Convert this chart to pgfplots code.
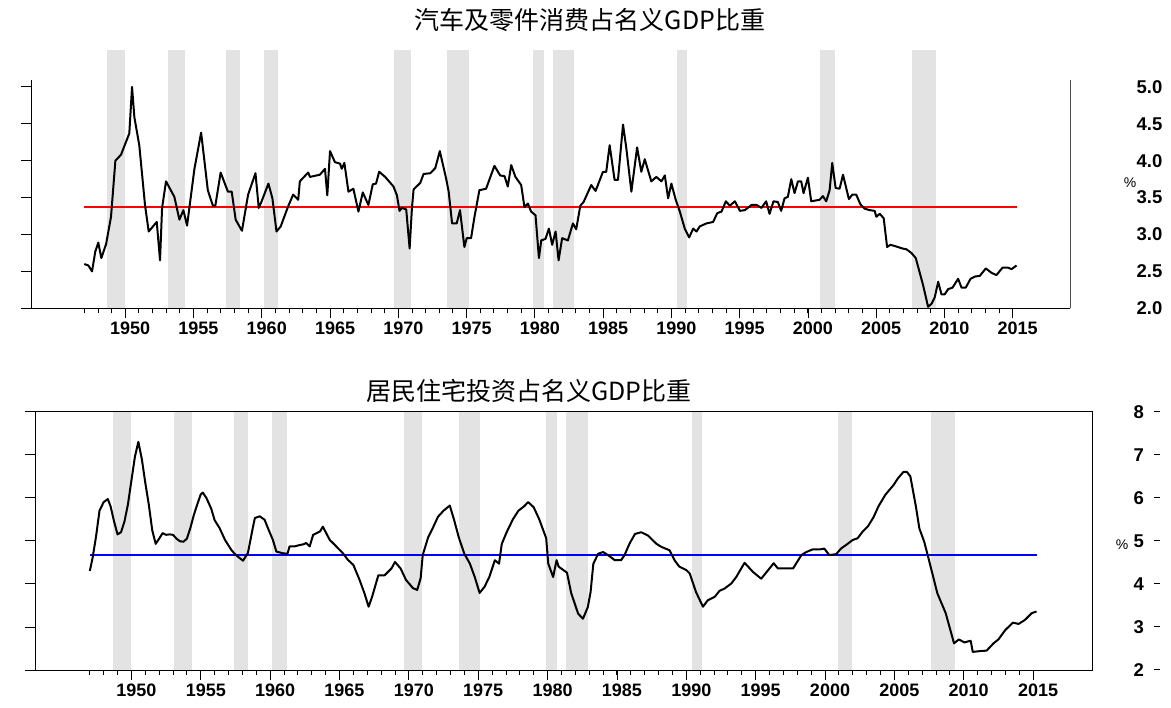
\documentclass[border=0pt]{standalone}
\usepackage{fontspec}
\setmainfont{Liberation Sans}
\newfontfamily\cjk{Noto Sans CJK SC}
\usepackage{pgfplots}
\pgfplotsset{compat=1.18}
\definecolor{shade}{RGB}{227,227,227}
\newcommand{\recessions}[1]{%
  \addplot[fill=shade, draw=none] coordinates {(1948.65,2) (1948.65,#1) (1949.95,#1) (1949.95,2)} --cycle;
  \addplot[fill=shade, draw=none] coordinates {(1953.1,2) (1953.1,#1) (1954.4,#1) (1954.4,2)} --cycle;
  \addplot[fill=shade, draw=none] coordinates {(1957.4,2) (1957.4,#1) (1958.4,#1) (1958.4,2)} --cycle;
  \addplot[fill=shade, draw=none] coordinates {(1960.15,2) (1960.15,#1) (1961.2,#1) (1961.2,2)} --cycle;
  \addplot[fill=shade, draw=none] coordinates {(1969.65,2) (1969.65,#1) (1970.95,#1) (1970.95,2)} --cycle;
  \addplot[fill=shade, draw=none] coordinates {(1973.6,2) (1973.6,#1) (1975.15,#1) (1975.15,2)} --cycle;
  \addplot[fill=shade, draw=none] coordinates {(1979.9,2) (1979.9,#1) (1980.7,#1) (1980.7,2)} --cycle;
  \addplot[fill=shade, draw=none] coordinates {(1981.35,2) (1981.35,#1) (1982.9,#1) (1982.9,2)} --cycle;
  \addplot[fill=shade, draw=none] coordinates {(1990.4,2) (1990.4,#1) (1991.15,#1) (1991.15,2)} --cycle;
  \addplot[fill=shade, draw=none] coordinates {(2000.9,2) (2000.9,#1) (2001.95,#1) (2001.95,2)} --cycle;
  \addplot[fill=shade, draw=none] coordinates {(2007.65,2) (2007.65,#1) (2009.4,#1) (2009.4,2)} --cycle;
}
\pgfplotsset{
  common/.style={
    scale only axis, anchor=south west,
    /pgf/number format/assume math mode=true,
    /pgf/number format/1000 sep={},
    tick align=outside, major tick length=10pt, minor tick length=5pt,
    tick style={black, line width=0.8pt},
    xtick={1950,1955,...,2015}, minor xtick={1947,...,2015},
    xtick pos=bottom, ytick pos=left,
    xticklabel style={font=\fontsize{18}{18}\selectfont\bfseries, xshift=5pt},
    yticklabels={},
  },
  labels/.style={
    scale only axis, anchor=south west,
    /pgf/number format/assume math mode=true,
    hide x axis, axis y line*=right, y axis line style={draw=none},
    major tick length=0pt,
    yticklabel style={font=\fontsize{18.5}{18.5}\selectfont\bfseries, anchor=west},
  }
}
\begin{document}
\begin{tikzpicture}
\useasboundingbox (0,0) rectangle (1171pt,708pt);
% ---------------- top panel ----------------
\begin{axis}[common, at={(31pt,399.7pt)}, width=1039pt, height=258.3pt,
  xmin=1943.1, xmax=2019.2, ymin=2, ymax=5.5, clip=false,
  axis line style={draw=none}, ytick={2,2.5,3,3.5,4,4.5,5}]
\recessions{5.5}
\draw[black, line width=0.9pt] (axis cs:1943.1,2) -- (axis cs:1943.1,5.093);
\draw[black!70, line width=0.9pt] (axis cs:2019.2,2) -- (axis cs:2019.2,5.093);
\draw[black, line width=0.9pt] (axis cs:1943.1,2) -- (axis cs:2019.2,2);
\addplot[red, line width=2.2pt] coordinates {(1947.0,3.377) (2015.28,3.377)};
\addplot[black, line width=2pt, line join=round] coordinates {
(1947.0,2.60) (1947.3,2.58) (1947.57,2.50) (1947.81,2.77) (1948.03,2.89) (1948.25,2.68) (1948.6,2.87) (1948.96,3.24)
(1949.28,4.00) (1949.69,4.08) (1950.3,4.37) (1950.5,5.00) (1950.67,4.59) (1951.03,4.21) (1951.45,3.40) (1951.72,3.04)
(1952.31,3.17) (1952.55,2.65) (1952.7,3.36) (1952.99,3.72) (1953.6,3.51) (1953.97,3.20) (1954.26,3.33) (1954.53,3.12)
(1955.07,3.89) (1955.56,4.38) (1956.05,3.60) (1956.42,3.39) (1956.6,3.39) (1956.99,3.84) (1957.52,3.58) (1957.8,3.58)
(1958.09,3.20) (1958.55,3.05) (1959.0,3.54) (1959.54,3.83) (1959.78,3.36) (1959.97,3.44) (1960.49,3.69) (1960.78,3.49)
(1961.08,3.04) (1961.39,3.11) (1961.93,3.38) (1962.3,3.54) (1962.67,3.47) (1962.79,3.72) (1963.4,3.84) (1963.53,3.78)
(1964.26,3.81) (1964.63,3.89) (1964.8,3.53) (1965.0,4.13) (1965.36,3.98) (1965.73,3.96) (1965.86,3.89) (1966.05,3.97)
(1966.35,3.58) (1966.71,3.62) (1967.08,3.31) (1967.4,3.57) (1967.81,3.40) (1968.13,3.68) (1968.37,3.69) (1968.6,3.85)
(1969.04,3.78) (1969.65,3.65) (1969.9,3.53) (1970.09,3.32) (1970.26,3.36) (1970.58,3.34) (1970.83,2.81) (1971.0,3.36)
(1971.12,3.61) (1971.61,3.70) (1971.85,3.82) (1972.34,3.83) (1972.71,3.90) (1973.04,4.13) (1973.5,3.76) (1973.69,3.58)
(1973.94,3.15) (1974.28,3.15) (1974.52,3.33) (1974.84,2.83) (1975.01,2.95) (1975.33,2.95) (1975.58,3.24) (1975.94,3.60)
(1976.43,3.62) (1977.04,3.93) (1977.46,3.80) (1977.78,3.79) (1978.02,3.65) (1978.27,3.94) (1978.58,3.78) (1979.0,3.67)
(1979.24,3.37) (1979.49,3.42) (1979.73,3.31) (1980.05,3.26) (1980.3,2.68) (1980.47,2.92) (1980.78,2.94) (1981.03,3.08)
(1981.27,2.86) (1981.52,3.04) (1981.74,2.65) (1982.0,2.95) (1982.42,2.92) (1982.79,3.15) (1983.03,3.07) (1983.33,3.39)
(1983.57,3.44) (1984.13,3.67) (1984.45,3.59) (1984.99,3.85) (1985.23,3.85) (1985.48,4.21) (1985.84,3.74) (1986.09,3.74)
(1986.46,4.49) (1986.7,4.17) (1987.07,3.58) (1987.49,4.18) (1987.8,3.85) (1988.05,4.02) (1988.53,3.72) (1988.9,3.78)
(1989.27,3.72) (1989.52,3.80) (1989.76,3.49) (1990.0,3.69) (1990.32,3.47) (1990.62,3.31) (1990.98,3.08) (1991.3,2.96)
(1991.6,3.08) (1991.84,3.04) (1992.08,3.11) (1992.57,3.15) (1993.06,3.17) (1993.36,3.29) (1993.67,3.31) (1993.99,3.45)
(1994.28,3.39) (1994.65,3.45) (1995.02,3.32) (1995.38,3.33) (1995.87,3.40) (1996.24,3.40) (1996.6,3.36) (1996.94,3.45)
(1997.19,3.28) (1997.48,3.45) (1997.8,3.44) (1998.04,3.32) (1998.29,3.49) (1998.53,3.51) (1998.78,3.75) (1999.02,3.56)
(1999.27,3.72) (1999.51,3.72) (1999.68,3.56) (2000.0,3.77) (2000.24,3.45) (2000.85,3.47) (2001.1,3.52) (2001.34,3.45)
(2001.59,3.60) (2001.78,3.97) (2002.03,3.63) (2002.32,3.62) (2002.57,3.81) (2003.0,3.48) (2003.25,3.54) (2003.54,3.54)
(2003.84,3.41) (2004.15,3.35) (2004.52,3.33) (2004.89,3.32) (2005.01,3.24) (2005.26,3.28) (2005.55,3.22) (2005.8,2.83)
(2006.04,2.86) (2006.24,2.85) (2006.6,2.83) (2006.92,2.81) (2007.21,2.80) (2007.58,2.75) (2007.9,2.68) (2008.44,2.31)
(2008.8,2.02) (2009.05,2.06) (2009.29,2.15) (2009.54,2.36) (2009.78,2.19) (2010.02,2.19) (2010.27,2.26) (2010.59,2.28)
(2011.0,2.40) (2011.25,2.28) (2011.56,2.28) (2011.91,2.40) (2012.23,2.43) (2012.59,2.44) (2013.03,2.54) (2013.45,2.48)
(2013.81,2.45) (2014.25,2.55) (2014.67,2.55) (2014.91,2.53) (2015.28,2.58)};
\end{axis}
\begin{axis}[labels, at={(31pt,399.7pt)}, width=1039pt, height=258.3pt,
  xmin=1943.1, xmax=2019.2, ymin=2, ymax=5.5,
  ytick={2,2.5,3,3.5,4,4.5,5},
  yticklabel style={xshift=63pt},
  yticklabel={\pgfmathprintnumber[fixed,fixed zerofill,precision=1]{\tick}}]
\addplot[draw=none] coordinates {(1950,3)};
\end{axis}
% ---------------- bottom panel ----------------
\begin{axis}[common, at={(35pt,38pt)}, width=1057pt, height=258.3pt,
  xmin=1943.05, xmax=2019.25, ymin=2, ymax=8,
  axis line style={black, line width=0.9pt}, ytick={2,3,4,5,6,7,8}]
\recessions{8}
\addplot[blue, line width=2.2pt] coordinates {(1947.0,4.67) (2015.28,4.67)};
\addplot[black, line width=2pt, line join=round] coordinates {
(1947.0,4.30) (1947.2,4.60) (1947.45,5.10) (1947.7,5.70) (1948.0,5.90) (1948.3,5.97) (1948.5,5.80) (1948.75,5.45)
(1949.0,5.15) (1949.25,5.20) (1949.5,5.45) (1949.75,5.85) (1950.0,6.40) (1950.25,6.95) (1950.5,7.30) (1950.75,6.90)
(1951.0,6.35) (1951.25,5.85) (1951.5,5.25) (1951.75,4.93) (1952.0,5.05) (1952.25,5.18) (1952.5,5.14) (1952.75,5.15)
(1953.0,5.14) (1953.25,5.05) (1953.5,4.99) (1953.75,4.98) (1954.0,5.05) (1954.25,5.30) (1954.5,5.60) (1954.75,5.85)
(1955.0,6.08) (1955.15,6.12) (1955.4,6.00) (1955.75,5.75) (1956.0,5.48) (1956.35,5.30) (1956.75,5.02) (1957.2,4.79)
(1957.5,4.68) (1957.8,4.60) (1958.05,4.54) (1958.4,4.72) (1958.75,5.30) (1958.9,5.53) (1959.25,5.57) (1959.6,5.49)
(1959.9,5.25) (1960.2,5.02) (1960.45,4.75) (1960.95,4.71) (1961.25,4.70) (1961.4,4.87) (1961.75,4.87) (1962.1,4.90)
(1962.4,4.92) (1962.6,4.95) (1962.85,4.87) (1963.1,5.14) (1963.35,5.18) (1963.6,5.22) (1963.8,5.33) (1964.3,5.02)
(1964.65,4.91) (1965.25,4.71) (1965.6,4.56) (1966.0,4.44) (1966.45,4.09) (1966.8,3.78) (1967.1,3.47) (1967.35,3.70)
(1967.8,4.20) (1968.25,4.20) (1968.75,4.36) (1969.0,4.51) (1969.4,4.36) (1969.8,4.09) (1970.3,3.90) (1970.6,3.86)
(1970.85,4.13) (1971.0,4.67) (1971.4,5.09) (1971.7,5.28) (1972.1,5.56) (1972.5,5.70) (1972.95,5.82) (1973.25,5.50)
(1973.6,5.08) (1974.0,4.70) (1974.4,4.47) (1974.75,4.16) (1975.1,3.79) (1975.45,3.93) (1975.8,4.16) (1976.2,4.55)
(1976.5,4.47) (1976.7,4.93) (1977.05,5.20) (1977.5,5.50) (1977.9,5.70) (1978.3,5.80) (1978.6,5.90) (1979.0,5.78)
(1979.4,5.50) (1979.9,5.06) (1980.05,4.47) (1980.4,4.16) (1980.65,4.55) (1980.8,4.40) (1981.4,4.26) (1981.7,3.79)
(1982.2,3.31) (1982.55,3.19) (1982.9,3.46) (1983.1,3.81) (1983.3,4.47) (1983.65,4.70) (1984.0,4.74) (1984.35,4.67)
(1984.85,4.55) (1985.3,4.55) (1985.55,4.67) (1985.9,4.93) (1986.3,5.16) (1986.75,5.20) (1987.25,5.12) (1987.85,4.93)
(1988.2,4.86) (1988.8,4.78) (1989.15,4.55) (1989.5,4.40) (1990.0,4.32) (1990.25,4.24) (1990.7,3.81) (1991.2,3.47)
(1991.55,3.62) (1992.05,3.70) (1992.4,3.84) (1992.75,3.89) (1993.25,4.01) (1993.6,4.16) (1994.2,4.49) (1994.8,4.28)
(1995.4,4.12) (1995.9,4.32) (1996.3,4.48) (1996.6,4.36) (1997.1,4.36) (1997.7,4.36) (1998.3,4.67) (1998.65,4.74)
(1999.1,4.80) (1999.6,4.80) (1999.95,4.82) (2000.3,4.67) (2000.8,4.69) (2001.15,4.82) (2001.5,4.90) (2002.0,5.02)
(2002.35,5.06) (2002.7,5.21) (2003.1,5.34) (2003.5,5.55) (2003.85,5.80) (2004.35,6.07) (2004.95,6.30) (2005.25,6.45)
(2005.65,6.60) (2005.9,6.60) (2006.15,6.50) (2006.55,5.80) (2006.8,5.29) (2007.15,4.98) (2007.4,4.67) (2008.1,3.78)
(2008.7,3.32) (2009.3,2.62) (2009.65,2.71) (2010.05,2.64) (2010.5,2.68) (2010.65,2.42) (2011.2,2.44) (2011.65,2.45)
(2012.15,2.62) (2012.5,2.71) (2013.0,2.93) (2013.55,3.10) (2013.95,3.07) (2014.4,3.16) (2014.9,3.32) (2015.25,3.36)};
\end{axis}
\begin{axis}[labels, at={(35pt,38pt)}, width=1057pt, height=258.3pt,
  xmin=1943.05, xmax=2019.25, ymin=2, ymax=8,
  ytick={2,3,4,5,6,7,8},
  yticklabel style={xshift=38pt},
  yticklabel={\pgfmathprintnumber{\tick}\hspace{10pt}\rule[0.35em]{6pt}{1pt}}]
\addplot[draw=none] coordinates {(1950,3)};
\end{axis}
% ---------------- titles and units ----------------
\node[font=\cjk\fontsize{25}{25}\selectfont] at (590pt,688pt) {汽车及零件消费占名义GDP比重};
\node[font=\cjk\fontsize{25}{25}\selectfont] at (529pt,317pt) {居民住宅投资占名义GDP比重};
\node[font=\fontsize{14}{14}\selectfont] at (1130pt,525pt) {\%};
\node[font=\fontsize{14}{14}\selectfont] at (1122pt,163pt) {\%};
\end{tikzpicture}
\end{document}
